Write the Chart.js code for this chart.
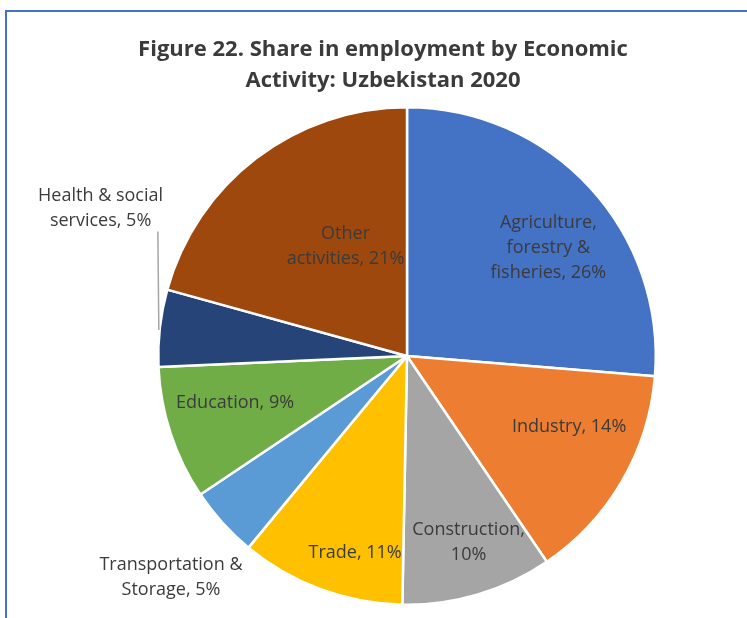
<!DOCTYPE html>
<html>
<head>
<meta charset="utf-8">
<script src="https://cdn.jsdelivr.net/npm/chart.js@4.4.1/dist/chart.umd.min.js"></script>
<style>
  html, body { margin: 0; padding: 0; background: #fff; }
  #wrap { width: 747px; height: 618px; position: relative; }
</style>
</head>
<body>
<div id="wrap"><canvas id="share-chart" width="747" height="618"></canvas></div>
<script>
// employment shares by activity, percent
const sectors = [
  ['Agriculture,', 'forestry &', 'fisheries'],
  ['Industry'],
  ['Construction'],
  ['Trade'],
  ['Transportation &', 'Storage'],
  ['Education'],
  ['Health & social', 'services'],
  ['Other', 'activities']
];
const shares = [26.3, 14.2, 9.8, 10.7, 4.6, 8.7, 5.0, 20.7];
const sliceColors = ['#4472C4', '#ED7D31', '#A5A5A5', '#FFC000', '#5B9BD5', '#70AD47', '#264478', '#9E480E'];
const titleLines = ['Figure 22. Share in employment by Economic', 'Activity: Uzbekistan 2020'];

// where each label sits relative to its slice: fraction of radius, angle shift (deg)
const labelSpots = [
  { r: 0.716, da: 5.2 },
  { r: 0.712, da: -6.5 },
  { r: 0.79, da: -1.7 },
  { r: 0.82, da: -5.6 },
  { r: 1.30, da: -1 },
  { r: 0.716, da: 3 },
  { r: 1.368, da: 19.3, leader: true },
  { r: 0.504, da: 7.9 }
];

const FONT = '"Open Sans", Lato, sans-serif';
const INK = '#3b3b3b';

// label text: last line gets the rounded share appended
function labelLines(i) {
  const lines = sectors[i].slice();
  const pct = Math.round(shares[i]) + '%';
  // "Construction," wraps its value onto its own line
  if (lines.length === 1 && lines[0] === 'Construction') return ['Construction,', pct];
  lines[lines.length - 1] += ', ' + pct;
  return lines;
}

const decorations = {
  id: 'decorations',
  beforeDraw(chart) {
    const ctx = chart.ctx;
    ctx.save();
    // frame (top and left edge)
    ctx.strokeStyle = '#4472C4';
    ctx.lineWidth = 2;
    ctx.beginPath();
    ctx.moveTo(747, 11);
    ctx.lineTo(6, 11);
    ctx.lineTo(6, 618);
    ctx.stroke();
    // title
    ctx.fillStyle = INK;
    ctx.font = 'bold 22px ' + FONT;
    ctx.textAlign = 'center';
    ctx.textBaseline = 'middle';
    ctx.fillText(titleLines[0], 383, 50);
    ctx.fillText(titleLines[1], 383, 81);
    ctx.restore();
  },
  afterDatasetsDraw(chart) {
    const ctx = chart.ctx;
    const arcs = chart.getDatasetMeta(0).data;
    const lineH = 25;
    ctx.save();
    ctx.font = '18px ' + FONT;
    ctx.fillStyle = INK;
    ctx.textAlign = 'center';
    ctx.textBaseline = 'middle';
    arcs.forEach((arc, i) => {
      const spot = labelSpots[i];
      const mid = (arc.startAngle + arc.endAngle) / 2;
      const a = mid + spot.da * Math.PI / 180;
      const cx = arc.x + Math.cos(a) * arc.outerRadius * spot.r;
      const cy = arc.y + Math.sin(a) * arc.outerRadius * spot.r;
      const lines = labelLines(i);
      const top = cy - (lines.length - 1) * lineH / 2;
      lines.forEach((t, k) => ctx.fillText(t, cx, top + k * lineH));
      if (spot.leader) {
        const ex = arc.x + Math.cos(mid) * arc.outerRadius;
        const ey = arc.y + Math.sin(mid) * arc.outerRadius;
        ctx.strokeStyle = '#A6A6A6';
        ctx.lineWidth = 1.5;
        ctx.beginPath();
        ctx.moveTo(ex - 1, ey + 2);
        ctx.lineTo(ex - 2, top + (lines.length - 1) * lineH + 11);
        ctx.stroke();
      }
    });
    ctx.restore();
  }
};

new Chart(document.getElementById('share-chart'), {
  type: 'pie',
  data: {
    labels: sectors.map(s => s.join(' ')),
    datasets: [{
      data: shares,
      backgroundColor: sliceColors,
      borderColor: '#ffffff',
      borderWidth: 2.5
    }]
  },
  options: {
    responsive: false,
    animation: false,
    layout: { padding: { left: 157, right: 90, top: 106, bottom: 12 } },
    plugins: {
      legend: { display: false },
      tooltip: { enabled: false }
    }
  },
  plugins: [decorations]
});
</script>
</body>
</html>
